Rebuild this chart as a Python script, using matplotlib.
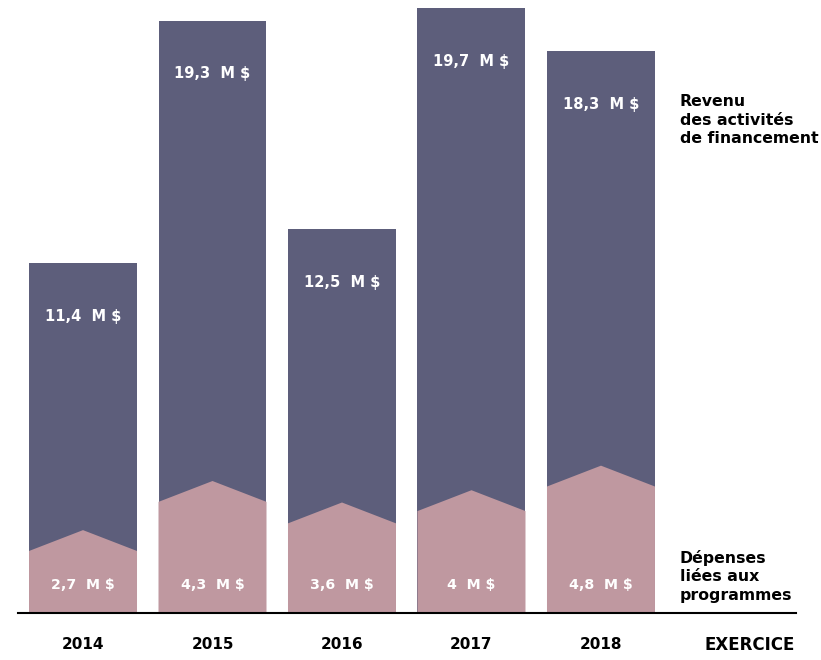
import matplotlib.pyplot as plt
from matplotlib.patches import Polygon

# Data (millions $)
years = ["2014", "2015", "2016", "2017", "2018"]
revenue = [11.4, 19.3, 12.5, 19.7, 18.3]
expenses = [2.7, 4.3, 3.6, 4.0, 4.8]
revenue_labels = ["11,4  M $", "19,3  M $", "12,5  M $", "19,7  M $", "18,3  M $"]
expense_labels = ["2,7  M $", "4,3  M $", "3,6  M $", "4  M $", "4,8  M $"]

DARK = "#5d5e7b"
PINK = "#bf98a0"

plt.rcParams["font.family"] = ["DejaVu Sans"]

fig = plt.figure(figsize=(8.21, 6.6), dpi=100)
ax = fig.add_axes([18 / 821, 47 / 660, (796 - 18) / 821, 613 / 660])

width = 0.834
notch = 0.68  # drop from peak to sides of the pink shape

for i, (rev, exp) in enumerate(zip(revenue, expenses)):
    ax.bar(i, rev, width=width, color=DARK, zorder=1)
    left, right = i - width / 2, i + width / 2
    pts = [(left, 0), (left, exp - notch), (i, exp), (right, exp - notch), (right, 0)]
    ax.add_patch(Polygon(pts, closed=True, facecolor=PINK, edgecolor="none", zorder=2))
    ax.text(i, rev - 1.73, revenue_labels[i], color="white", fontsize=10.5,
            fontweight="bold", ha="center", va="center")
    ax.text(i, 0.91, expense_labels[i], color="white", fontsize=10.2,
            fontweight="bold", ha="center", va="center")
    ax.text(i, -1.04, years[i], color="black", fontsize=11,
            fontweight="bold", ha="center", va="center", clip_on=False)

ax.text(4.61, 16.06, "Revenu\ndes activités\nde financement", fontsize=11.3,
        fontweight="bold", ha="left", va="center", linespacing=1.3)
ax.text(4.61, 1.2, "Dépenses\nliées aux\nprogrammes", fontsize=11.3,
        fontweight="bold", ha="left", va="center", linespacing=1.3)
ax.text(5.15, -1.04, "EXERCICE", fontsize=12, fontweight="bold",
        ha="center", va="center", clip_on=False)

ax.set_xlim(-0.502, 5.506)
ax.set_ylim(0, 19.97)
for side in ["top", "right", "left"]:
    ax.spines[side].set_visible(False)
ax.spines["bottom"].set_linewidth(1.5)
ax.set_xticks([])
ax.set_yticks([])

fig.savefig("out.png", dpi=100)
